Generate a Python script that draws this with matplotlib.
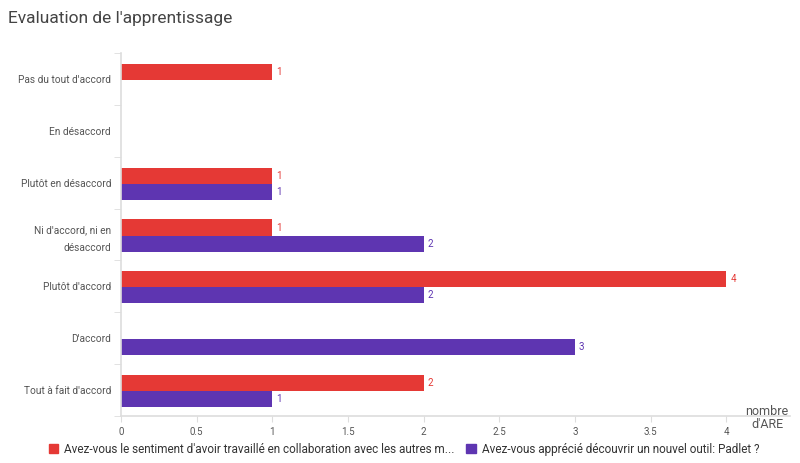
import numpy as np
import matplotlib
matplotlib.use("Agg")
import matplotlib.pyplot as plt
from matplotlib.patches import Patch

plt.rcParams['font.family'] = ['Roboto', 'DejaVu Sans']

categories = ["Pas du tout d'accord", "En désaccord", "Plutôt en désaccord",
              "Ni d'accord, ni en\ndésaccord", "Plutôt d'accord", "D'accord",
              "Tout à fait d'accord"]
collab = [1, 0, 1, 1, 4, 0, 2]
padlet = [0, 0, 1, 2, 2, 3, 1]
series_names = ["Avez-vous le sentiment d'avoir travaillé en collaboration avec les autres m...",
                "Avez-vous apprécié découvrir un nouvel outil: Padlet ?"]
x_ticks = [0, 0.5, 1, 1.5, 2, 2.5, 3, 3.5, 4]

red = "#e53935"
purple = "#5e35b1"
grey_txt = "#555555"

fig = plt.figure(figsize=(8, 4.63), dpi=100)
ax = fig.add_axes([0.151, 0.1015, 0.8365, 0.784])

y = np.arange(len(categories))
h = 0.31
for vals, off, col in [(collab, -h / 2, red), (padlet, h / 2, purple)]:
    for yi, v in zip(y, vals):
        if v > 0:
            ax.barh(yi + off + 0.02, v, height=h, color=col)
            ax.text(v + 0.025, yi + off + 0.02, str(v), color=col, fontsize=7,
                    va="center", ha="left")

ax.set_ylim(len(categories) - 0.5, -0.5)
ax.set_xlim(0, 4.42)
ax.set_yticks(y)
ax.set_yticklabels(categories, fontsize=7.3, color=grey_txt, linespacing=1.9)
ax.set_yticks(np.arange(-0.5, len(categories)), minor=True)
ax.tick_params(axis="y", which="major", length=0, pad=7)
ax.tick_params(axis="y", which="minor", length=5, color="#dddddd")
ax.set_xticks(x_ticks)
ax.set_xticklabels([f"{t:g}" for t in x_ticks], fontsize=7, color=grey_txt)
ax.tick_params(axis="x", length=4, color="#dddddd", pad=4)

for s in ["top", "right"]:
    ax.spines[s].set_visible(False)
ax.spines["left"].set_color("#dddddd")
ax.spines["bottom"].set_color("#dddddd")
ax.spines["left"].set_linewidth(1.2)
ax.spines["bottom"].set_linewidth(1.2)

fig.text(0.959, 0.07, "nombre\nd'ARE", ha="center", va="bottom", fontsize=9,
         color=grey_txt, linespacing=1.0)

fig.text(0.01, 0.96, "Evaluation de l'apprentissage", fontsize=12.5,
         color="#444444", va="center", ha="left")

handles = [Patch(color=red), Patch(color=purple)]
fig.legend(handles, series_names, loc="center", bbox_to_anchor=(0.505, 0.03),
           ncol=2, frameon=False, fontsize=8.5, handlelength=0.8,
           handleheight=0.8, handletextpad=0.5, columnspacing=1.0,
           labelcolor="#333333")

fig.savefig("out.png", dpi=100)
